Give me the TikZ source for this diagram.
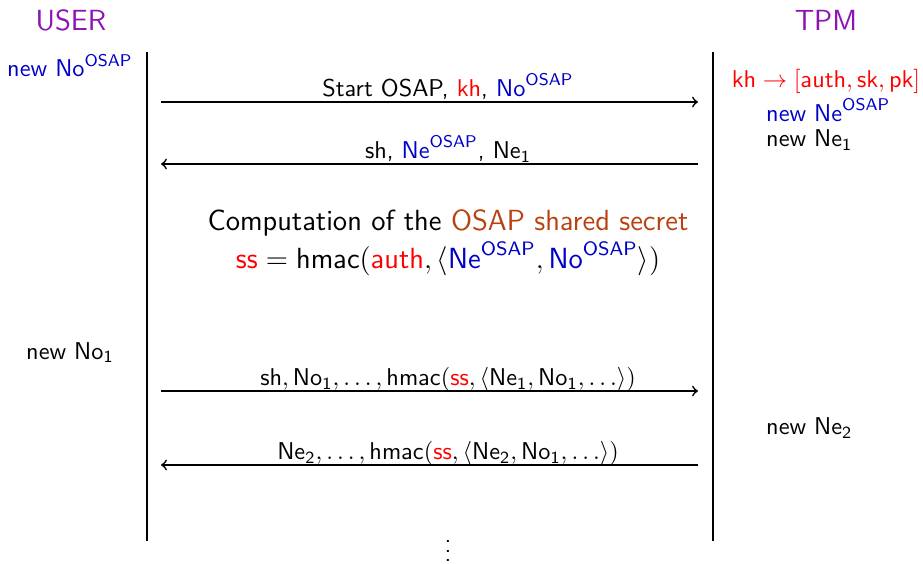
\documentclass[tikz,border=0pt]{standalone}
\usepackage{xcolor}
\usepackage{amsfonts,amsmath,amssymb}
\usepackage{tikz}
\renewcommand{\familydefault}{\sfdefault}
\definecolor{actor}{RGB}{140,20,180}
\definecolor{nonce}{RGB}{0,0,200}
\definecolor{secret}{RGB}{185,65,15}
\newcommand{\sfm}[1]{\mathsf{#1}}
\newcommand{\osap}[1]{\sfm{#1}^{\sfm{OSAP}}}

\begin{document}
\begin{tikzpicture}[
    actor/.style={font=\large, text=actor},
    life/.style={line width=0.7pt},
    msg/.style={line width=0.7pt, ->},
    lbl/.style={anchor=base, inner sep=0pt},
    note/.style={anchor=base, inner sep=0pt}
]
    \useasboundingbox (0,0) rectangle (13.356,8.161);

    % the two parties and their lifelines
    \node[actor] (user) at (1.027,7.865) {USER};
    \node[actor] (tpm) at (11.952,7.865) {TPM};
    \coordinate (utop) at (2.127,7.409);
    \coordinate (ubot) at (2.127,0.333);
    \coordinate (ttop) at (10.317,7.409);
    \coordinate (tbot) at (10.317,0.333);
    \draw[life] (utop) -- (ubot);
    \draw[life] (ttop) -- (tbot);

    % messages, u = USER side, t = TPM side
    \foreach \y/\src/\dst/\txt [count=\i] in {
        6.685/u/t/{Start OSAP, \textcolor{red}{kh}, \textcolor{nonce}{$\osap{No}$}},
        5.788/t/u/{sh, \textcolor{nonce}{$\osap{Ne}$}, $\sfm{Ne}_{\sfm 1}$},
        2.503/u/t/{$\sfm{sh}, \sfm{No}_{\sfm 1}, \ldots, \sfm{hmac}(\textcolor{red}{\sfm{ss}}, \langle \sfm{Ne}_{\sfm 1}, \sfm{No}_{\sfm 1}, \ldots\rangle)$},
        1.433/t/u/{$\sfm{Ne}_{\sfm 2}, \ldots, \sfm{hmac}(\textcolor{red}{\sfm{ss}}, \langle \sfm{Ne}_{\sfm 2}, \sfm{No}_{\sfm 1}, \ldots\rangle)$}
    }{
        \coordinate (u\i) at (2.33,\y);
        \coordinate (t\i) at (10.10,\y);
        \draw[msg] (\src\i) -- (\dst\i);
        \node[lbl] (m\i) at (6.483,\y+0.075) {\txt};
    }

    % shared secret
    \node[lbl, font=\large] (calc) at (6.483,4.82) {Computation of the \textcolor{secret}{OSAP shared secret}};
    \node[lbl, font=\large] (ss) at (6.483,4.28) {$\textcolor{red}{\sfm{ss}} = \sfm{hmac}(\textcolor{red}{\sfm{auth}}, \langle \textcolor{nonce}{\osap{Ne}}, \textcolor{nonce}{\osap{No}} \rangle)$};

    % local steps
    \node[note, text=nonce] (nou) at (1.013,7.047) {new $\osap{No}$};
    \node[note] (no1) at (1.013,2.965) {new $\sfm{No}_{\sfm 1}$};
    \node[note, text=red] (kh) at (11.952,6.898) {$\sfm{kh} \rightarrow [\sfm{auth}, \sfm{sk}, \sfm{pk}]$};
    \node[note, anchor=base west, text=nonce] (neo) at (11.08,6.400) {new $\osap{Ne}$};
    \node[note, anchor=base west] (ne1) at (11.08,6.038) {new $\sfm{Ne}_{\sfm 1}$};
    \node[note, anchor=base west] (ne2) at (11.08,1.867) {new $\sfm{Ne}_{\sfm 2}$};

    \node[lbl] (more) at (6.483,0.03) {$\vdots$};
\end{tikzpicture}
\end{document}
